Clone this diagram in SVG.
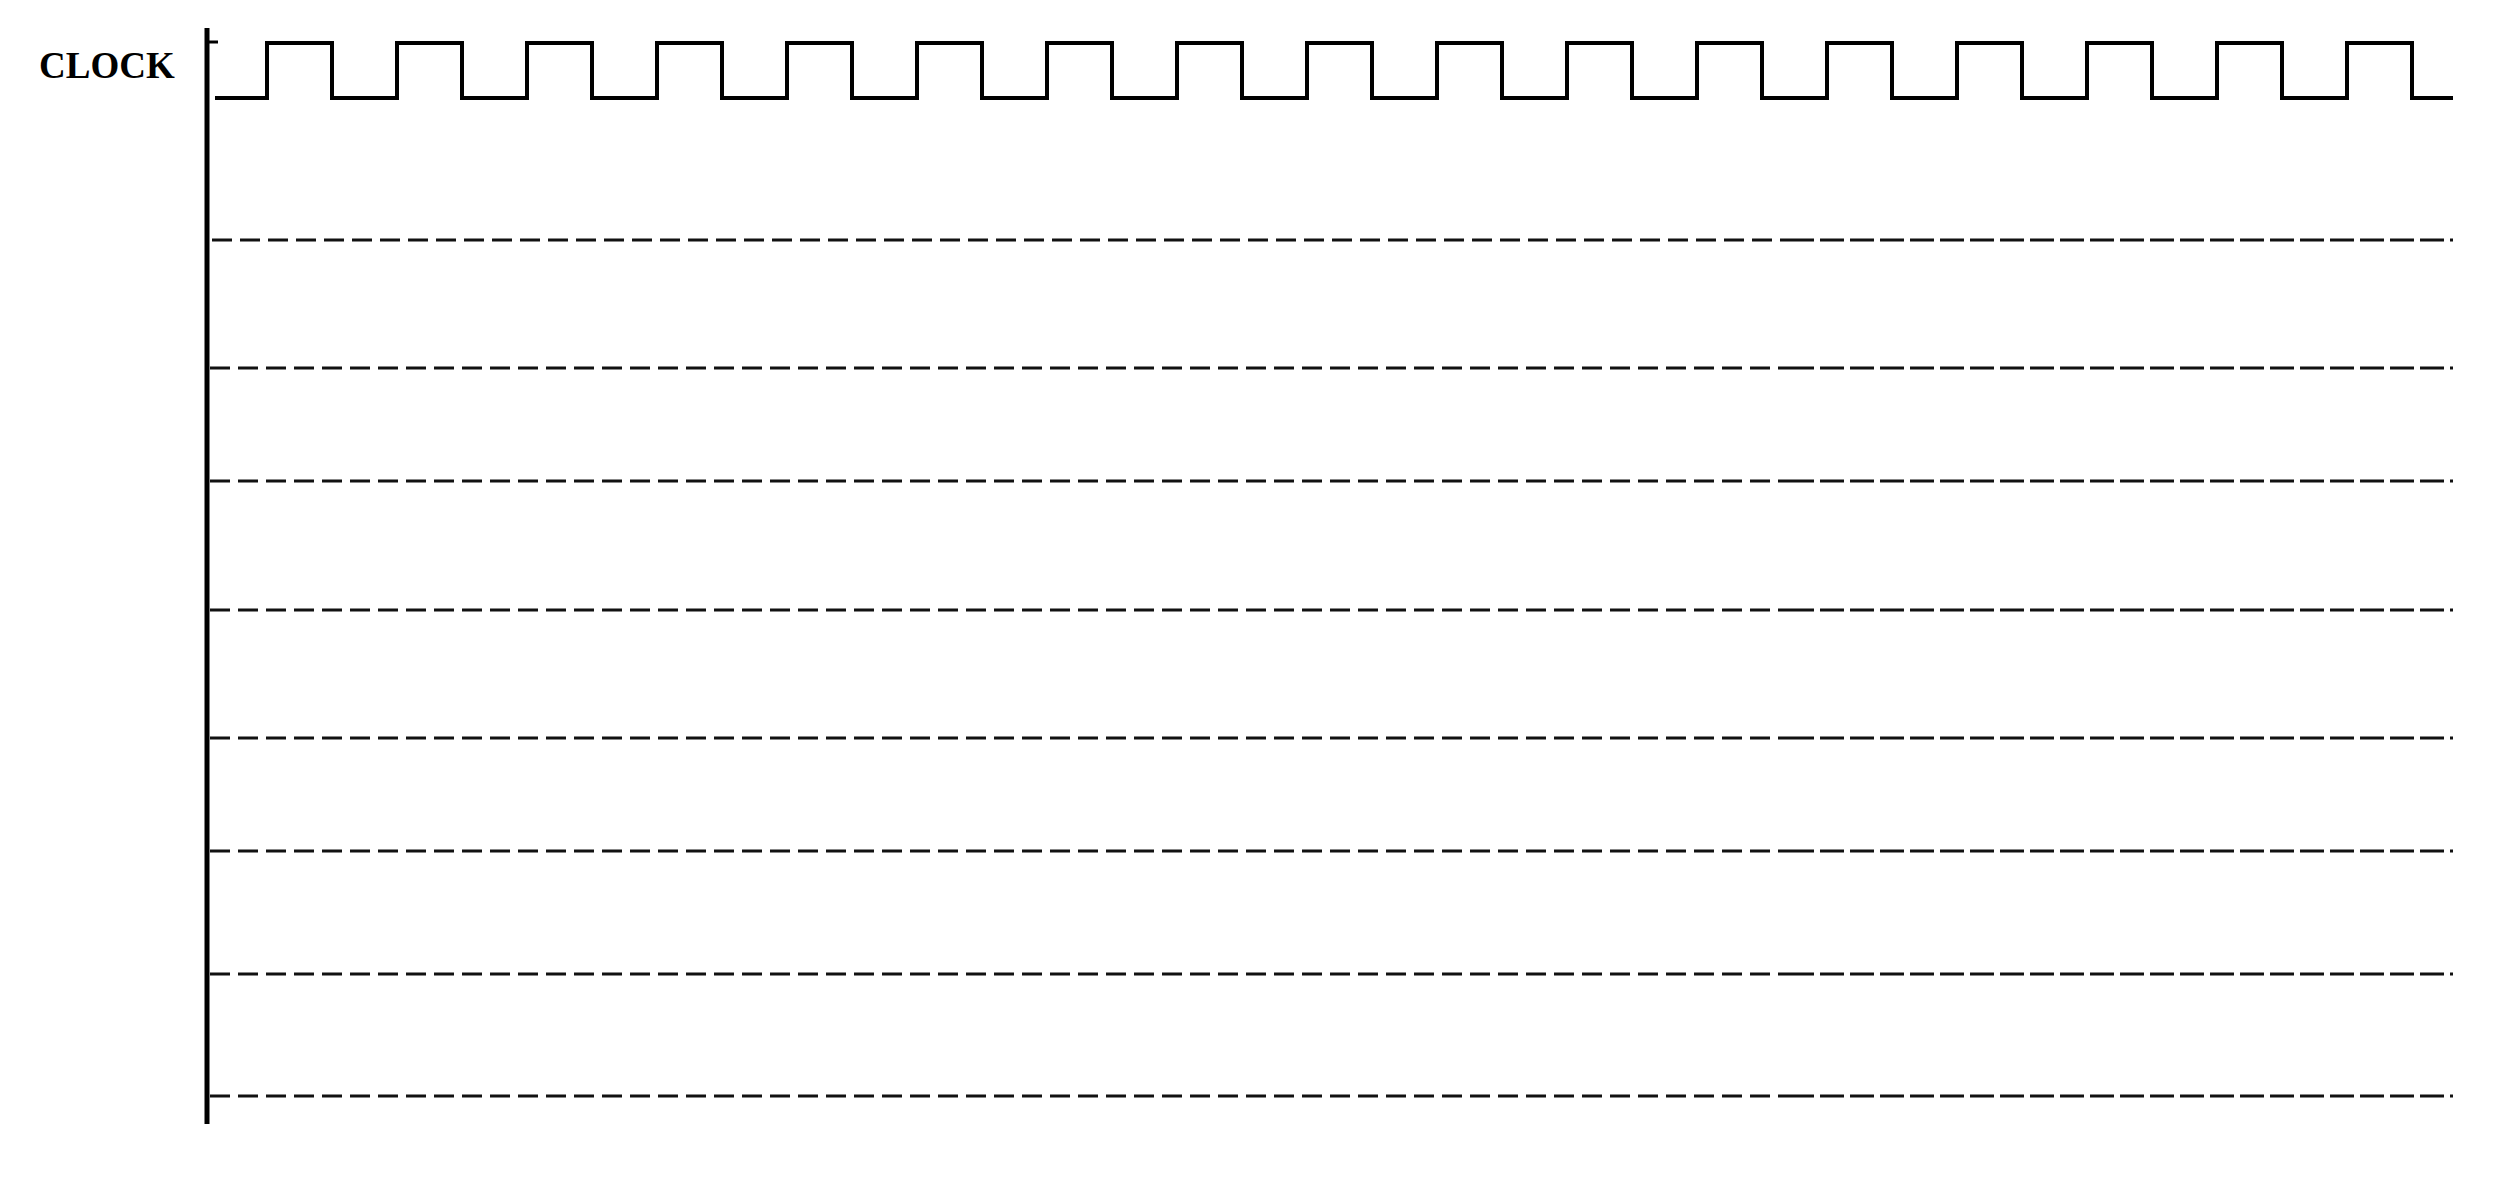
<svg xmlns="http://www.w3.org/2000/svg" width="2508" height="1200" viewBox="0 0 2508 1200">
<style>
.axis{stroke:#000;stroke-width:5;fill:none}
.clk{stroke:#000;stroke-width:4;fill:none;stroke-linejoin:miter}
.dl{stroke:#111;stroke-width:3;fill:none;stroke-dasharray:20 8}
.dr{stroke:#111;stroke-width:3;fill:none;stroke-dasharray:24 6}
.lbl{font-family:"Liberation Serif","Times New Roman",serif;font-weight:bold;font-size:37px;fill:#000}
</style>
<rect width="2508" height="1200" fill="#fff"/>
<g id="axis">
<line class="axis" x1="207" y1="28" x2="207" y2="1124"/>
<line x1="205" y1="42" x2="218" y2="42" stroke="#000" stroke-width="3"/>
</g>
<g id="clock">
<text class="lbl" x="39" y="78">CLOCK</text>
<path class="clk" d="M215 98 H267 V43 H332 V98 H397 V43 H462 V98 H527 V43 H592 V98 H657 V43 H722 V98 H787 V43 H852 V98 H917 V43 H982 V98 H1047 V43 H1112 V98 H1177 V43 H1242 V98 H1307 V43 H1372 V98 H1437 V43 H1502 V98 H1567 V43 H1632 V98 H1697 V43 H1762 V98 H1827 V43 H1892 V98 H1957 V43 H2022 V98 H2087 V43 H2152 V98 H2217 V43 H2282 V98 H2347 V43 H2412 V98 H2453"/>
</g>
<g id="connectors">
<line class="dl" x1="212" y1="240" x2="1790" y2="240"/><line class="dr" x1="1790" y1="240" x2="2453" y2="240"/>
<line class="dl" x1="210" y1="368" x2="1790" y2="368"/><line class="dr" x1="1790" y1="368" x2="2453" y2="368"/>
<line class="dl" x1="210" y1="481" x2="1790" y2="481"/><line class="dr" x1="1790" y1="481" x2="2453" y2="481"/>
<line class="dl" x1="210" y1="610" x2="1790" y2="610"/><line class="dr" x1="1790" y1="610" x2="2453" y2="610"/>
<line class="dl" x1="210" y1="738" x2="1790" y2="738"/><line class="dr" x1="1790" y1="738" x2="2453" y2="738"/>
<line class="dl" x1="210" y1="851" x2="1790" y2="851"/><line class="dr" x1="1790" y1="851" x2="2453" y2="851"/>
<line class="dl" x1="210" y1="974" x2="1790" y2="974"/><line class="dr" x1="1790" y1="974" x2="2453" y2="974"/>
<line class="dl" x1="210" y1="1096" x2="1790" y2="1096"/><line class="dr" x1="1790" y1="1096" x2="2453" y2="1096"/>
</g>
</svg>
